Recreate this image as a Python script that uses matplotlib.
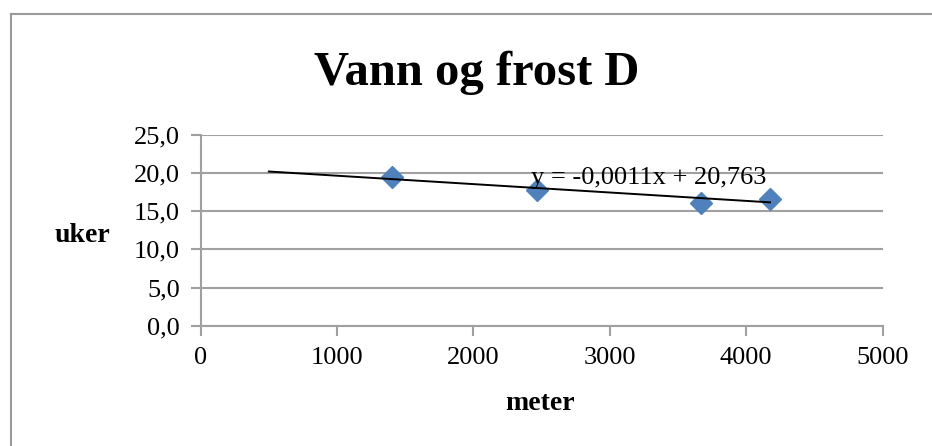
import matplotlib.pyplot as plt
import numpy as np
from matplotlib.lines import Line2D

# Data
meter = [1400, 2467, 3670, 4175]
uker = [19.45, 17.79, 16.04, 16.56]

# Trendline as printed on the chart
slope = -0.0011
intercept = 20.763
trend_x = [500, 4175]

x_ticks = [0, 1000, 2000, 3000, 4000, 5000]
y_ticks = [0, 5, 10, 15, 20, 25]


def main():
    plt.rcParams['font.family'] = ['Liberation Serif', 'DejaVu Serif']

    fig = plt.figure(figsize=(9.32, 4.46), dpi=100)
    ax = fig.add_axes([0.2153, 0.2697, 0.7316, 0.4276])

    grey = '#a0a0a0'

    # Scatter points
    ax.plot(meter, uker, linestyle='none', marker='D', markersize=11,
            color='#4f81bd', markeredgecolor='#4f81bd', zorder=3)

    # Linear trendline
    tx = np.array(trend_x, dtype=float)
    ax.plot(tx, slope * tx + intercept, color='black', linewidth=1.4, zorder=4)
    ax.text(2424, 19.4, 'y = -0,0011x + 20,763', fontsize=19,
            ha='left', va='center', zorder=5)

    ax.set_xlim(0, 5000)
    ax.set_ylim(0, 25)
    ax.set_xticks(x_ticks)
    ax.set_yticks(y_ticks)
    ax.set_xticklabels([str(v) for v in x_ticks], fontsize=19)
    ax.set_yticklabels([f'{v:.1f}'.replace('.', ',') for v in y_ticks], fontsize=19)

    ax.grid(axis='y', color=grey, linewidth=1.5)
    ax.set_axisbelow(True)
    for side in ['top', 'right']:
        ax.spines[side].set_visible(False)
    for side in ['left', 'bottom']:
        ax.spines[side].set_color(grey)
        ax.spines[side].set_linewidth(1.5)
    ax.tick_params(axis='both', direction='out', length=7, width=1.5,
                   color=grey, pad=8)

    # Title and axis labels
    fig.text(0.512, 0.809, 'Vann og frost D', fontsize=35, fontweight='bold',
             ha='center', va='baseline')
    fig.text(0.088, 0.473, 'uker', fontsize=20, fontweight='bold',
             ha='center', va='center')
    fig.text(0.580, 0.096, 'meter', fontsize=20, fontweight='bold',
             ha='center', va='center')

    # Chart frame (only top and left edges are visible in the crop)
    top_y = 1 - 13.5 / 446
    left_x = 10.5 / 932
    fig.add_artist(Line2D([left_x, 1], [top_y, top_y], color='#999999', linewidth=1.5))
    fig.add_artist(Line2D([left_x, left_x], [0, top_y], color='#999999', linewidth=1.5))

    plt.savefig('out.png', dpi=100)


if __name__ == "__main__":
    main()
